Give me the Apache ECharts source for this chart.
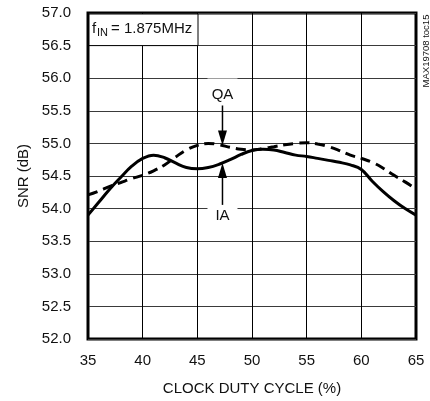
<!DOCTYPE html>
<html>
<head>
<meta charset="utf-8">
<script src="https://cdn.jsdelivr.net/npm/echarts@6/dist/echarts.min.js"></script>
<style>
  html, body { margin: 0; padding: 0; background: #fff; }
  #chart { width: 430px; height: 401px; }
</style>
</head>
<body>
<div id="chart"></div>
<script>
// Clock duty cycle sweep (%)
const dutyCycle = [35, 36, 37, 38, 39, 40, 41, 42, 43, 44, 45, 46, 47, 48, 49, 50,
                   51, 52, 53, 54, 55, 56, 57, 58, 59, 60, 61, 62, 63, 64, 65];
// SNR of the I channel (dB)
const snrIA = [53.90, 54.10, 54.30, 54.48, 54.65, 54.77, 54.82, 54.78, 54.70, 54.63, 54.61,
               54.63, 54.68, 54.75, 54.83, 54.89, 54.91, 54.90, 54.86, 54.82, 54.80,
               54.77, 54.74, 54.71, 54.67, 54.60, 54.42, 54.26, 54.12, 54.00, 53.90];
// SNR of the Q channel (dB)
const snrQA = [54.21, 54.27, 54.34, 54.40, 54.46, 54.51, 54.58, 54.67, 54.79, 54.90, 54.97,
               55.00, 54.98, 54.94, 54.91, 54.90, 54.92, 54.95, 54.98, 55.00, 55.01,
               54.99, 54.95, 54.89, 54.82, 54.77, 54.71, 54.62, 54.51, 54.41, 54.30];
// Axis ranges and steps
const xRange = [35, 65], xStep = 5;
const yRange = [52.0, 57.0], yStep = 0.5;
// Where the channel callouts point
const calloutX = 47.3;

const FONT = '"Liberation Sans", Arial, sans-serif';
const FS = 15;

const chart = echarts.init(document.getElementById('chart'), null, { renderer: 'canvas' });

const pairs = (ys) => dutyCycle.map((x, i) => [x, ys[i]]);

chart.setOption({
  animation: false,
  backgroundColor: '#fff',
  grid: {
    left: 88, right: 14, top: 13, bottom: 59,
    show: true, borderColor: '#000', borderWidth: 3, backgroundColor: 'transparent'
  },
  xAxis: {
    type: 'value', min: xRange[0], max: xRange[1], interval: xStep,
    name: 'CLOCK DUTY CYCLE (%)', nameLocation: 'middle', nameGap: 42,
    nameTextStyle: { fontFamily: FONT, fontSize: FS, color: '#111' },
    axisLine: { show: false }, axisTick: { show: false },
    axisLabel: { fontFamily: FONT, fontSize: FS, color: '#111', margin: 14 },
    splitLine: { show: true, lineStyle: { color: '#000', width: 1 } }
  },
  yAxis: {
    type: 'value', min: yRange[0], max: yRange[1], interval: yStep,
    name: 'SNR (dB)', nameLocation: 'middle', nameGap: 46, nameRotate: 90,
    nameTextStyle: { fontFamily: FONT, fontSize: FS, color: '#111' },
    axisLine: { show: false }, axisTick: { show: false },
    axisLabel: { fontFamily: FONT, fontSize: FS, color: '#111', margin: 17,
                 formatter: (v) => v.toFixed(1) },
    splitLine: { show: true, lineStyle: { color: '#3a3a3a', width: 1 } }
  },
  series: [
    {
      name: 'QA', type: 'line', data: pairs(snrQA), smooth: 0.4, symbol: 'none',
      lineStyle: { color: '#000', width: 3, type: [10, 6] }, z: 3
    },
    {
      name: 'IA', type: 'line', data: pairs(snrIA), smooth: 0.4, symbol: 'none',
      lineStyle: { color: '#000', width: 3, type: 'solid' }, z: 4
    }
  ]
});

// Linear read-out of a series between its sample points
function valueAt(ys, x) {
  const i = Math.max(0, Math.min(dutyCycle.length - 2, Math.floor(x - dutyCycle[0])));
  const t = (x - dutyCycle[i]) / (dutyCycle[i + 1] - dutyCycle[i]);
  return ys[i] + (ys[i + 1] - ys[i]) * t;
}

// Callouts: labels with arrows pointing at each channel's curve
function callouts() {
  const tipQ = chart.convertToPixel({ gridIndex: 0 }, [calloutX, valueAt(snrQA, calloutX)]);
  const tipI = chart.convertToPixel({ gridIndex: 0 }, [calloutX, valueAt(snrIA, calloutX)]);
  const x = tipQ[0];
  const headH = 15, headW = 4.5;
  const els = [];
  // QA label + down arrow
  els.push({ type: 'rect', shape: { x: x - 15, y: tipQ[1] - 67, width: 30, height: 22 },
             style: { fill: '#fff' }, z: 10 });
  els.push({ type: 'text', x: x, y: tipQ[1] - 51,
             style: { text: 'QA', fontFamily: FONT, fontSize: FS, fill: '#111',
                      align: 'center', verticalAlign: 'middle' }, z: 11 });
  els.push({ type: 'line', shape: { x1: x, y1: tipQ[1] - 40, x2: x, y2: tipQ[1] - headH + 1 },
             style: { stroke: '#000', lineWidth: 1.5 }, z: 11 });
  els.push({ type: 'polygon', shape: { points: [[x - headW, tipQ[1] - headH], [x + headW, tipQ[1] - headH], [x, tipQ[1]]] },
             style: { fill: '#000' }, z: 11 });
  // IA label + up arrow
  els.push({ type: 'rect', shape: { x: x - 15, y: tipI[1] + 42, width: 30, height: 20 },
             style: { fill: '#fff' }, z: 10 });
  els.push({ type: 'text', x: x, y: tipI[1] + 53,
             style: { text: 'IA', fontFamily: FONT, fontSize: FS, fill: '#111',
                      align: 'center', verticalAlign: 'middle' }, z: 11 });
  els.push({ type: 'line', shape: { x1: x, y1: tipI[1] + headH - 1, x2: x, y2: tipI[1] + 42 },
             style: { stroke: '#000', lineWidth: 1.5 }, z: 11 });
  els.push({ type: 'polygon', shape: { points: [[x - headW, tipI[1] + headH], [x + headW, tipI[1] + headH], [x, tipI[1]]] },
             style: { fill: '#000' }, z: 11 });

  // Input frequency box in the top-left corner
  const tl = chart.convertToPixel({ gridIndex: 0 }, [xRange[0], yRange[1]]);
  const boxBottom = chart.convertToPixel({ gridIndex: 0 }, [xRange[0], yRange[1] - yStep])[1];
  els.push({ type: 'rect', shape: { x: tl[0] + 1, y: tl[1] + 1, width: 109, height: boxBottom - tl[1] - 1 },
             style: { fill: '#fff', stroke: '#000', lineWidth: 1 }, z: 10 });
  els.push({ type: 'text', x: tl[0] + 4, y: tl[1] + 16,
             style: { text: 'f', fontFamily: FONT, fontSize: FS, fill: '#111',
                      align: 'left', verticalAlign: 'middle' }, z: 11 });
  els.push({ type: 'text', x: tl[0] + 9, y: tl[1] + 20,
             style: { text: 'IN', fontFamily: FONT, fontSize: 11, fill: '#111',
                      align: 'left', verticalAlign: 'middle' }, z: 11 });
  els.push({ type: 'text', x: tl[0] + 23, y: tl[1] + 16,
             style: { text: '= 1.875MHz', fontFamily: FONT, fontSize: FS, fill: '#111',
                      align: 'left', verticalAlign: 'middle' }, z: 11 });

  // Figure tag on the right edge
  els.push({ type: 'text', x: 426, y: 51, rotation: Math.PI / 2,
             style: { text: 'MAX19708 toc15', fontFamily: FONT, fontSize: 9.5, fill: '#111',
                      align: 'center', verticalAlign: 'middle' }, z: 11 });

  chart.setOption({ graphic: els });
}
callouts();
</script>
</body>
</html>
